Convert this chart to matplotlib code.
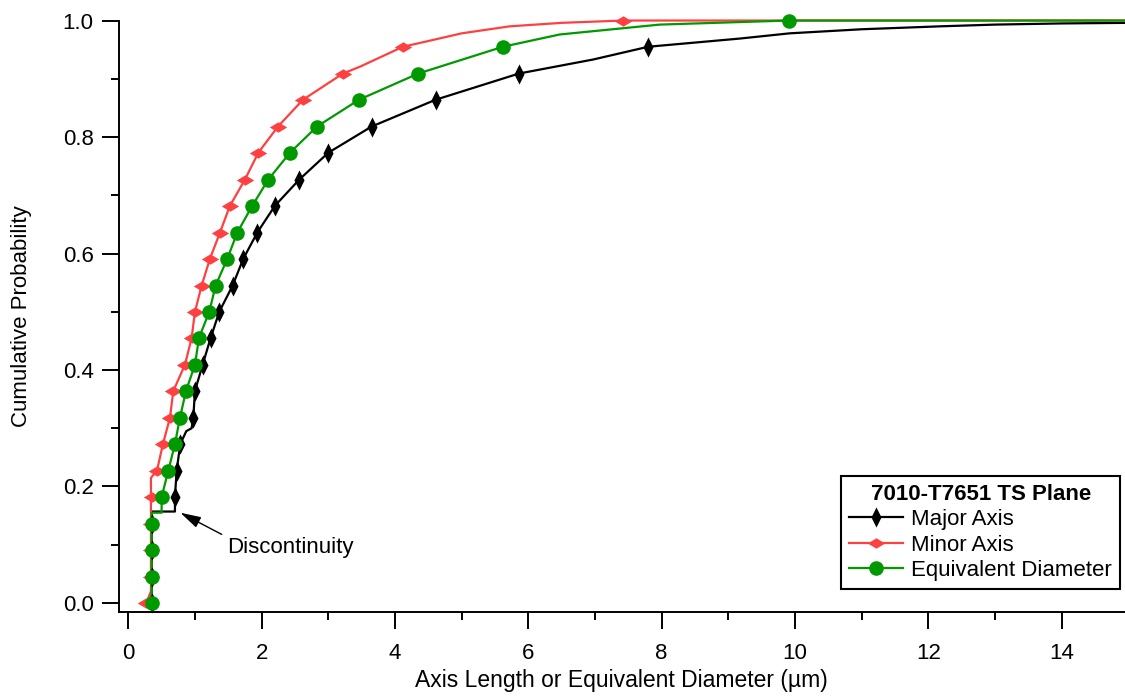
import matplotlib
matplotlib.use("Agg")
import matplotlib.pyplot as plt
from matplotlib.path import Path
from matplotlib.ticker import MultipleLocator, FormatStrFormatter

plt.rcParams['font.family'] = ['Liberation Sans', 'DejaVu Sans']
plt.rcParams['font.size'] = 16

# probability levels where the markers sit
marker_p = [0.0, 0.045, 0.091, 0.136, 0.182, 0.227, 0.273, 0.318, 0.364, 0.409,
            0.455, 0.5, 0.545, 0.591, 0.636, 0.682, 0.727, 0.773, 0.818, 0.864,
            0.909, 0.955, 1.0]

# Major axis
major_mx = [0.35, 0.35, 0.35, 0.35, 0.70, 0.725, 0.78, 0.975, 1.0, 1.115, 1.235,
            1.365, 1.565, 1.725, 1.935, 2.20, 2.565, 3.00, 3.65, 4.61, 5.86, 7.80]
major_x = [0.35, 0.35, 0.70, 0.70, 0.725, 0.78, 0.87, 0.95, 0.975, 1.0, 1.115, 1.235,
           1.365, 1.565, 1.725, 1.935, 2.20, 2.565, 3.00, 3.65, 4.61, 5.86, 6.97,
           7.80, 9.17, 9.92, 11.0, 12.17, 13.0, 14.0, 15.0]
major_y = [0.0, 0.157, 0.157, 0.182, 0.227, 0.273, 0.295, 0.30, 0.318, 0.364, 0.409,
           0.455, 0.5, 0.545, 0.591, 0.636, 0.682, 0.727, 0.773, 0.818, 0.864, 0.909,
           0.933, 0.955, 0.969, 0.978, 0.985, 0.990, 0.993, 0.995, 0.996]

# Minor axis
minor_mx = [0.27, 0.34, 0.34, 0.34, 0.35, 0.43, 0.52, 0.625, 0.675, 0.85, 0.95,
            1.0, 1.1, 1.225, 1.375, 1.525, 1.75, 1.95, 2.245, 2.62, 3.22, 4.12, 7.42]
minor_x = [0.27, 0.34, 0.34, 0.43, 0.52, 0.625, 0.675, 0.85, 0.95, 1.0, 1.1, 1.225,
           1.375, 1.525, 1.75, 1.95, 2.245, 2.62, 3.22, 3.48, 4.12, 4.47, 5.0, 5.72,
           6.5, 7.42, 15.0]
minor_y = [0.0, 0.02, 0.215, 0.227, 0.273, 0.318, 0.364, 0.409, 0.455, 0.5, 0.545,
           0.591, 0.636, 0.682, 0.727, 0.773, 0.818, 0.864, 0.909, 0.921, 0.955, 0.964,
           0.978, 0.99, 0.996, 1.0, 1.0]

# Equivalent diameter
equiv_mx = [0.35, 0.35, 0.35, 0.35, 0.50, 0.60, 0.70, 0.775, 0.865, 1.0, 1.06,
            1.215, 1.31, 1.485, 1.635, 1.86, 2.10, 2.425, 2.83, 3.46, 4.35, 5.62, 9.91]
equiv_x = [0.35, 0.35, 0.50, 0.50, 0.60, 0.70, 0.775, 0.865, 1.0, 1.06, 1.215, 1.31,
           1.485, 1.635, 1.86, 2.10, 2.425, 2.83, 3.46, 4.35, 5.62, 6.47, 7.97, 9.91,
           15.0]
equiv_y = [0.0, 0.155, 0.155, 0.182, 0.227, 0.273, 0.318, 0.364, 0.409, 0.455, 0.5,
           0.545, 0.591, 0.636, 0.682, 0.727, 0.773, 0.818, 0.864, 0.909, 0.955, 0.976,
           0.993, 1.0, 1.0]

# thin diamonds, one upright and one lying flat
tall_diamond = Path([(0, 1), (0.5, 0), (0, -1), (-0.5, 0), (0, 1)],
                    [Path.MOVETO, Path.LINETO, Path.LINETO, Path.LINETO, Path.CLOSEPOLY])
flat_diamond = Path([(1, 0), (0, 0.6), (-1, 0), (0, -0.6), (1, 0)],
                    [Path.MOVETO, Path.LINETO, Path.LINETO, Path.LINETO, Path.CLOSEPOLY])

BLACK = "#000000"
RED = "#FF4040"
GREEN = "#009900"

fig = plt.figure(figsize=(11.25, 6.98), dpi=100)
ax = fig.add_axes([0.1055, 0.1232, 0.8945, 0.8474])

series = [
    ("Major Axis", major_x, major_y, major_mx, BLACK, tall_diamond, 14.5),
    ("Minor Axis", minor_x, minor_y, minor_mx, RED, flat_diamond, 12.5),
    ("Equivalent Diameter", equiv_x, equiv_y, equiv_mx, GREEN, "o", 10.5),
]
handles = []
for label, lx, ly, mx, col, mk, ms in series:
    ax.plot(lx, ly, color=col, lw=1.6, clip_on=False, zorder=2)
    ax.plot(mx, marker_p[:len(mx)], ls="none", marker=mk, ms=ms, color=col,
            mew=0, clip_on=False, zorder=3)
    h, = ax.plot([], [], color=col, lw=1.6, marker=mk, ms=ms, mew=0, label=label)
    handles.append(h)

ax.annotate("Discontinuity", xy=(0.78, 0.155), xytext=(1.48, 0.095),
            ha="left", va="center", fontsize=16,
            arrowprops=dict(arrowstyle="-|>,head_length=0.9,head_width=0.25",
                            color="black", lw=1.0, relpos=(0, 1),
                            shrinkA=2, shrinkB=0, mutation_scale=14))

ax.set_xlim(-0.144, 14.95)
ax.set_ylim(-0.0155, 1.0)
ax.spines["top"].set_visible(False)
ax.spines["right"].set_visible(False)
for s in ("left", "bottom"):
    ax.spines[s].set_linewidth(1.4)

ax.xaxis.set_major_locator(MultipleLocator(2))
ax.xaxis.set_minor_locator(MultipleLocator(1))
ax.yaxis.set_major_locator(MultipleLocator(0.2))
ax.yaxis.set_minor_locator(MultipleLocator(0.1))
ax.yaxis.set_major_formatter(FormatStrFormatter("%.1f"))
ax.tick_params(which="major", direction="out", length=12, width=1.4, labelsize=16)
ax.tick_params(which="minor", direction="out", length=6, width=1.4)
ax.tick_params(axis="x", which="major", pad=10)
ax.tick_params(axis="y", which="major", pad=6)

ax.set_xlabel("Axis Length or Equivalent Diameter (µm)", fontsize=16.5, labelpad=4)
ax.set_ylabel("Cumulative Probability", fontsize=16, labelpad=22)

leg = ax.legend(handles=handles, loc="lower right", bbox_to_anchor=(0.995, 0.039),
                borderaxespad=0, title="7010-T7651 TS Plane",
                title_fontproperties={"weight": "bold", "size": 16},
                fontsize=16, fancybox=False, framealpha=1, edgecolor="black",
                handlelength=2.4, handletextpad=0.4, labelspacing=0.2,
                borderpad=0.35)
leg.get_frame().set_linewidth(1.5)

fig.savefig("out.png", dpi=100)
